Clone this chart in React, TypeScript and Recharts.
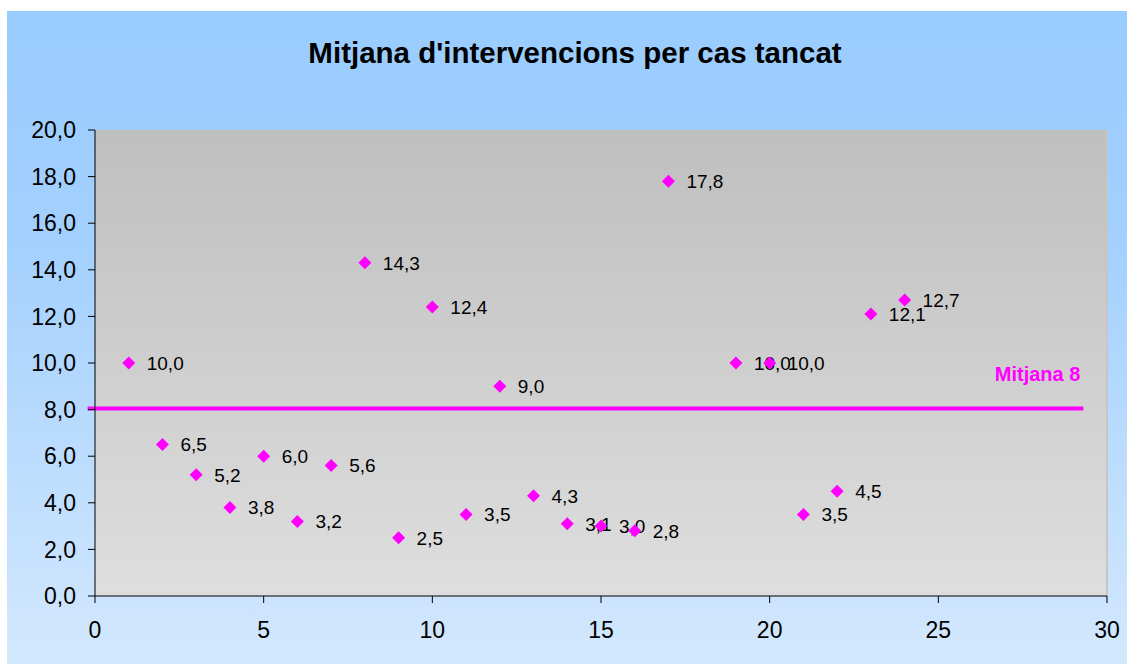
import React from 'react';
import {
  ScatterChart,
  Scatter,
  XAxis,
  YAxis,
  ReferenceArea,
  ReferenceLine,
} from 'recharts';

// casos (x) i mitjana d'intervencions (y)
const casos = [1, 2, 3, 4, 5, 6, 7, 8, 9, 10, 11, 12, 13, 14, 15, 16, 17, 19, 20, 21, 22, 23, 24];
const mitjanes = [10.0, 6.5, 5.2, 3.8, 6.0, 3.2, 5.6, 14.3, 2.5, 12.4, 3.5, 9.0, 4.3, 3.1, 3.0, 2.8, 17.8, 10.0, 10.0, 3.5, 4.5, 12.1, 12.7];

const xTicks = [0, 5, 10, 15, 20, 25, 30];
const yTicks = [0, 2, 4, 6, 8, 10, 12, 14, 16, 18, 20];

const mitjanaGlobal = 8.05;
const mitjanaInici = -0.22;
const mitjanaFi = 29.3;
const mitjanaText = 'Mitjana 8';

const punts = casos.map((x, i) => ({ x, y: mitjanes[i] }));

const fmt = (v: number) => v.toFixed(1).replace('.', ',');

const MAGENTA = '#ff00ff';
const FONT = '"Liberation Sans", Arial, sans-serif';

const Diamond = (props: any) => {
  const { cx, cy } = props;
  const r = 6.5;
  return (
    <polygon
      points={`${cx},${cy - r} ${cx + r},${cy} ${cx},${cy + r} ${cx - r},${cy}`}
      fill={MAGENTA}
    />
  );
};

const ValueLabel = (props: any) => {
  const { cx, cy, payload } = props;
  return (
    <text x={cx + 18} y={cy} dy="0.36em" fontSize={19} fontFamily={FONT} fill="#000">
      {fmt(payload.y)}
    </text>
  );
};

const MitjanaLabel = (props: any) => {
  const vb = props.viewBox || {};
  const right = (vb.x ?? 0) + (vb.width ?? 0);
  return (
    <text
      x={right - 3}
      y={(vb.y ?? 0) - 27}
      textAnchor="end"
      fontSize={20}
      fontWeight="bold"
      fontFamily={FONT}
      fill={MAGENTA}
    >
      {mitjanaText}
    </text>
  );
};

export default function App() {
  return (
    <div
      style={{
        position: 'absolute',
        left: 7,
        top: 11,
        width: 1120,
        height: 653,
        background: 'linear-gradient(to bottom, #99ccff 0%, #a3d0fe 35%, #d3e8fd 100%)',
        fontFamily: FONT,
      }}
    >
      <div
        style={{
          position: 'absolute',
          left: 0,
          width: 1136,
          top: 25,
          textAlign: 'center',
          fontSize: 29.5,
          fontWeight: 'bold',
          color: '#000',
        }}
      >
        Mitjana d'intervencions per cas tancat
      </div>
      <ScatterChart
        width={1120}
        height={653}
        margin={{ top: 119, right: 20, bottom: 18, left: 8 }}
        style={{ position: 'absolute', left: 0, top: 0 }}
      >
        <defs>
          <linearGradient id="plotBg" x1="0" y1="0" x2="0" y2="1">
            <stop offset="0%" stopColor="#bfbfbf" />
            <stop offset="100%" stopColor="#dedede" />
          </linearGradient>
        </defs>
        <XAxis
          type="number"
          dataKey="x"
          domain={[0, 30]}
          ticks={xTicks}
          height={50}
          tickSize={7}
          tickMargin={19}
          stroke="#000"
          tick={{ fill: '#000', fontSize: 23, fontFamily: FONT }}
          allowDataOverflow
        />
        <YAxis
          type="number"
          dataKey="y"
          domain={[0, 20]}
          ticks={yTicks}
          width={80}
          tickSize={7}
          tickMargin={12}
          stroke="#000"
          tickFormatter={fmt}
          tick={{ fill: '#000', fontSize: 23, fontFamily: FONT }}
          allowDataOverflow
        />
        <ReferenceArea
          x1={0}
          x2={30}
          y1={0}
          y2={20}
          fill="url(#plotBg)"
          fillOpacity={1}
          stroke="none"
        />
        <ReferenceLine x={30} stroke="#c6c6c6" strokeWidth={2} />
        <Scatter data={punts} shape={ValueLabel} isAnimationActive={false} />
        <ReferenceLine
          segment={[
            { x: mitjanaInici, y: mitjanaGlobal },
            { x: mitjanaFi, y: mitjanaGlobal },
          ]}
          stroke={MAGENTA}
          strokeWidth={4}
          ifOverflow="visible"
          label={MitjanaLabel}
        />
        <Scatter data={punts} shape={Diamond} fill={MAGENTA} isAnimationActive={false} />
      </ScatterChart>
    </div>
  );
}
